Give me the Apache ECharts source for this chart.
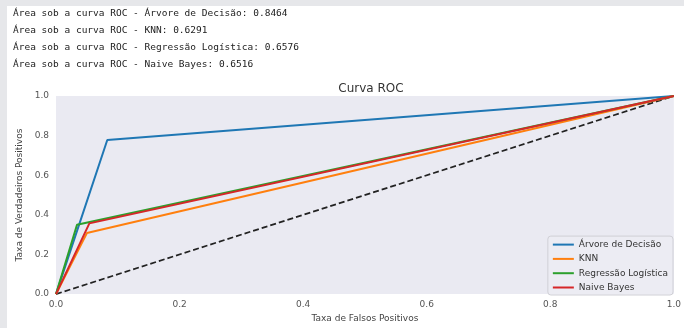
<!DOCTYPE html>
<html><head><meta charset="utf-8">
<script src="https://cdn.jsdelivr.net/npm/echarts@6/dist/echarts.min.js"></script>
<style>html,body{margin:0;padding:0;background:#fff}#c{width:684px;height:328px}</style>
</head><body><div id="c"></div>
<script>
const headerLines = [
  'Área sob a curva ROC - Árvore de Decisão: 0.8464',
  'Área sob a curva ROC - KNN: 0.6291',
  'Área sob a curva ROC - Regressão Logística: 0.6576',
  'Área sob a curva ROC - Naive Bayes: 0.6516'
];
const seriesNames = ['Árvore de Decisão', 'KNN', 'Regressão Logística', 'Naive Bayes'];
const fprTree = [0, 0.083, 1];
const tprTree = [0, 0.778, 1];
const fprKnn = [0, 0.050, 1];
const tprKnn = [0, 0.308, 1];
const fprLog = [0, 0.034, 1];
const tprLog = [0, 0.350, 1];
const fprNb = [0, 0.054, 1];
const tprNb = [0, 0.357, 1];
const diagX = [0, 1];
const diagY = [0, 1];
const ticks = [0, 0.2, 0.4, 0.6, 0.8, 1.0];
const colors = ['#1f77b4', '#ff7f0e', '#2ca02c', '#d62728'];

const pairs = (xs, ys) => xs.map((x, i) => [x, ys[i]]);
const curves = [pairs(fprTree, tprTree), pairs(fprKnn, tprKnn), pairs(fprLog, tprLog), pairs(fprNb, tprNb)];

const chart = echarts.init(document.getElementById('c'), null, {renderer: 'canvas'});
const graphic = [
  {type: 'rect', shape: {x: 0, y: 0, width: 684, height: 6}, style: {fill: '#e6e7ea'}, z: -10},
  {type: 'rect', shape: {x: 0, y: 0, width: 7, height: 328}, style: {fill: '#e6e7ea'}, z: -10}
];
headerLines.forEach((t, i) => {
  graphic.push({type: 'text', left: 13, top: 9 + i * 17,
    style: {text: t, font: '9.5px "DejaVu Sans Mono", "Liberation Mono", monospace', fill: '#222'}});
});
const axisCommon = {
  type: 'value', min: 0, max: 1, interval: 0.2,
  axisLine: {show: false}, axisTick: {show: false}, splitLine: {show: false},
  axisLabel: {color: '#555', fontSize: 9, fontFamily: 'DejaVu Sans', formatter: v => v.toFixed(1)},
  nameTextStyle: {color: '#444', fontSize: 9, fontFamily: 'DejaVu Sans'},
  nameLocation: 'middle'
};
const series = curves.map((d, i) => ({
  name: seriesNames[i], type: 'line', data: d, symbol: 'none',
  lineStyle: {color: colors[i], width: 2}, itemStyle: {color: colors[i]}, z: 3 + i
}));
series.push({
  name: 'diag', type: 'line', data: pairs(diagX, diagY), symbol: 'none',
  lineStyle: {color: '#222', width: 1.7, type: [6, 3]}, z: 2
});
chart.setOption({
  animation: false,
  backgroundColor: '#fff',
  color: colors,
  graphic,
  title: {text: 'Curva ROC', left: 366, top: 78, textAlign: 'center',
    textStyle: {fontSize: 12, fontWeight: 'normal', color: '#333', fontFamily: 'DejaVu Sans'}},
  grid: {left: 56, right: 7, top: 96, bottom: 31, show: true, backgroundColor: '#eaeaf2', borderWidth: 0},
  xAxis: Object.assign({}, axisCommon, {name: 'Taxa de Falsos Positivos', nameGap: 19,
    axisLabel: Object.assign({}, axisCommon.axisLabel, {margin: 6})}),
  yAxis: Object.assign({}, axisCommon, {name: 'Taxa de Verdadeiros Positivos', nameGap: 31,
    axisLabel: Object.assign({}, axisCommon.axisLabel, {margin: 7})}),
  legend: {
    data: seriesNames, orient: 'vertical', right: 11, bottom: 33,
    icon: 'rect', itemWidth: 21, itemHeight: 2, itemGap: 5.3,
    backgroundColor: 'rgba(236,236,243,0.85)', borderColor: '#d0d0d6', borderWidth: 1, borderRadius: 3,
    padding: [4, 5, 3, 5],
    textStyle: {fontSize: 9, color: '#333', fontFamily: 'DejaVu Sans'}
  },
  series
});
</script></body></html>
